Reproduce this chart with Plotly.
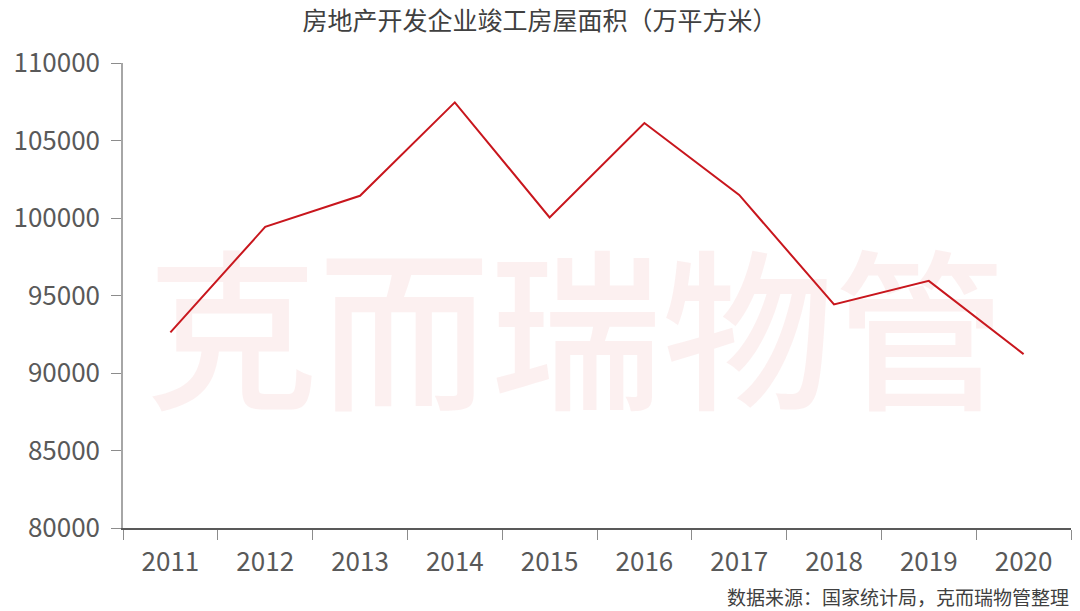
import plotly.graph_objects as go

years = ["2011", "2012", "2013", "2014", "2015", "2016", "2017", "2018", "2019", "2020"]
area = [92620, 99425, 101435, 107459, 100039, 106128, 101486, 94421, 95942, 91218]
y_ticks = [80000, 85000, 90000, 95000, 100000, 105000, 110000]

title_text = "房地产开发企业竣工房屋面积（万平方米）"
source_text = "数据来源：国家统计局，克而瑞物管整理"
watermark = "克而瑞物管"

FONT = "Noto Sans CJK SC, Open Sans, sans-serif"

fig = go.Figure()
fig.add_trace(go.Scatter(
    x=years, y=area, mode="lines",
    line=dict(color="#C8161D", width=2),
    hoverinfo="x+y", showlegend=False,
))

fig.update_layout(
    width=1080, height=611,
    margin=dict(l=123, r=9, t=63, b=83),
    paper_bgcolor="white", plot_bgcolor="white",
    font=dict(family=FONT, color="#595959"),
    title=dict(text=title_text, x=0.5, xanchor="center", y=0.965, yanchor="middle",
               font=dict(size=25, color="#404040", family=FONT)),
    xaxis=dict(
        type="category", tickson="boundaries", range=[-0.5, len(years) - 0.5],
        showline=True, linecolor="#595959", linewidth=1.5,
        ticks="outside", ticklen=10, tickcolor="#8c8c8c", tickwidth=1,
        showgrid=False, zeroline=False,
        tickfont=dict(size=26, color="#595959", family=FONT),
        ticklabelstandoff=10,
    ),
    yaxis=dict(
        range=[80000, 110000], tickvals=y_ticks, ticktext=[str(v) for v in y_ticks],
        showline=True, linecolor="#a6a6a6", linewidth=1.5,
        ticks="outside", ticklen=10, tickcolor="#8c8c8c", tickwidth=1,
        showgrid=False, zeroline=False,
        tickfont=dict(size=26, color="#595959", family=FONT),
        ticklabelstandoff=6,
    ),
    annotations=[
        dict(text=watermark, xref="paper", yref="paper", x=0.478, y=0.445,
             xanchor="center", yanchor="middle", showarrow=False,
             font=dict(size=172, color="rgba(220,60,60,0.08)", family=FONT, weight=500)),
        dict(text=source_text, xref="paper", yref="paper", x=1.0, y=-0.148,
             xanchor="right", yanchor="middle", showarrow=False,
             font=dict(size=19, color="#404040", family=FONT)),
    ],
)

fig.write_html("out.html", config={"displayModeBar": False},
               post_script="document.body.style.margin='0';document.body.style.overflow='hidden';")
